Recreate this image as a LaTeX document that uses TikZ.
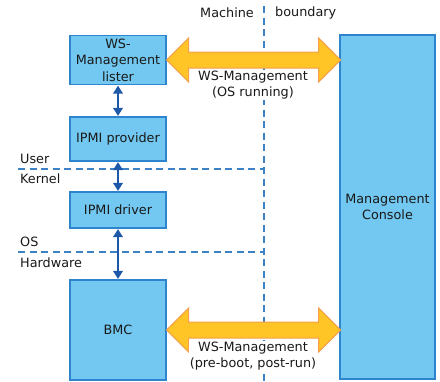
\documentclass[tikz,border=0pt]{standalone}
\usepackage{fontspec}
\setmainfont{DejaVu Sans}
\usetikzlibrary{arrows.meta}
\begin{document}
\begin{tikzpicture}[x=1pt,y=-1pt,
  txt/.style={font=\fontsize{12.8}{15.5}\selectfont, text=black!90, inner sep=0pt},
  box/.style={draw=boxline, fill=boxfill, line width=1.2pt, align=center, font=\fontsize{12.8}{16.5}\selectfont, inner sep=0pt, text=black!90},
  sep/.style={draw=sepline, line width=1.2pt, dash pattern=on 7pt off 4.5pt},
  small/.style={draw=arrowblue, line width=2.6pt, {Triangle[length=8pt,width=9.5pt]}-{Triangle[length=8pt,width=9.5pt]}, shorten <=0.5pt, shorten >=0.5pt},
  big/.style={fill=bigfill, draw=bigline, line width=1pt, line join=miter},
  lab/.style={txt, fill=white, align=center, inner sep=1pt}
]
\definecolor{boxfill}{HTML}{72C8F0}
\definecolor{boxline}{HTML}{2F85CD}
\definecolor{sepline}{HTML}{3C82C4}
\definecolor{arrowblue}{HTML}{1E58A8}
\definecolor{bigfill}{HTML}{FFC425}
\definecolor{bigline}{HTML}{F5A04C}
\useasboundingbox (0,0) rectangle (440,381);

% machine boundary
\coordinate (vtop) at (264,6);
\coordinate (vbot) at (264,381);
\draw[sep] (vtop) -- (vbot);
\node[txt, anchor=east] (machine) at (254,13) {Machine};
\node[txt, anchor=west] (boundary) at (275,13) {boundary};

% horizontal separators
\coordinate (uk1) at (18,169); \coordinate (uk2) at (264,169);
\coordinate (oh1) at (18,252); \coordinate (oh2) at (264,252);
\draw[sep] (uk1) -- (uk2);
\draw[sep] (oh1) -- (oh2);
\node[txt, anchor=west] (user) at (20,159) {User};
\node[txt, anchor=west] (kernel) at (20,179) {Kernel};
\node[txt, anchor=west] (os) at (20,242) {OS};
\node[txt, anchor=west] (hw) at (20,263) {Hardware};

% boxes
\node[box, minimum width=96pt, minimum height=49pt] (lister) at (118,60) {WS-\\Management\\lister};
\node[box, minimum width=96pt, minimum height=44pt] (prov) at (118,139) {IPMI provider};
\node[box, minimum width=96pt, minimum height=36pt] (drv) at (118,210) {IPMI driver};
\node[box, minimum width=96pt, minimum height=100pt] (bmc) at (118,330) {BMC};
\node[box, minimum width=95pt, minimum height=344pt] (mc) at (387.5,207) {Management\\Console};

% small arrows
\draw[small] (lister.south) -- (prov.north);
\draw[small] (prov.south) -- (drv.north);
\draw[small] (drv.south) -- (bmc.north);

% big arrows
\draw[big] (lister.east) -- ++(22,-22) -- ++(0,14) -- ++(130,0) -- ++(0,-14) -- ++(22,22) -- ++(-22,22) -- ++(0,-14) -- ++(-130,0) -- ++(0,14) -- cycle;
\draw[big] (bmc.east) -- ++(22,-22) -- ++(0,14) -- ++(130,0) -- ++(0,-14) -- ++(22,22) -- ++(-22,22) -- ++(0,-14) -- ++(-130,0) -- ++(0,14) -- cycle;

\node[lab] (l1) at (253,85) {WS-Management\\(OS running)};
\node[lab] (l2) at (253,356) {WS-Management\\(pre-boot, post-run)};
\end{tikzpicture}
\end{document}
